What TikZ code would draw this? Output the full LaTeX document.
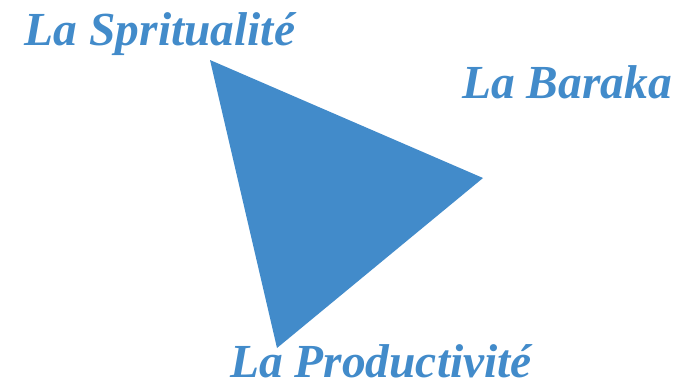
\documentclass[tikz,border=0pt]{standalone}
\usepackage{fontspec}
\setmainfont{Liberation Serif}
\definecolor{barblue}{RGB}{66,139,202}

\begin{document}
\begin{tikzpicture}[x=0.02cm,y=-0.02cm,
  lbl/.style={text=barblue,font=\fontsize{27}{30}\selectfont\bfseries\itshape,inner sep=0pt,anchor=base}]
  \useasboundingbox (0,0) rectangle (682,389);
  \coordinate (S) at (210,60);
  \coordinate (B) at (483,178);
  \coordinate (P) at (277,348);
  \fill[barblue] (S) -- (B) -- (P) -- cycle;
  \node[lbl] (spi) at (160,45) {La Spritualité};
  \node[lbl] (bar) at (567,98) {La Baraka};
  \node[lbl] (pro) at (381,377) {La Productivité};
\end{tikzpicture}
\end{document}
